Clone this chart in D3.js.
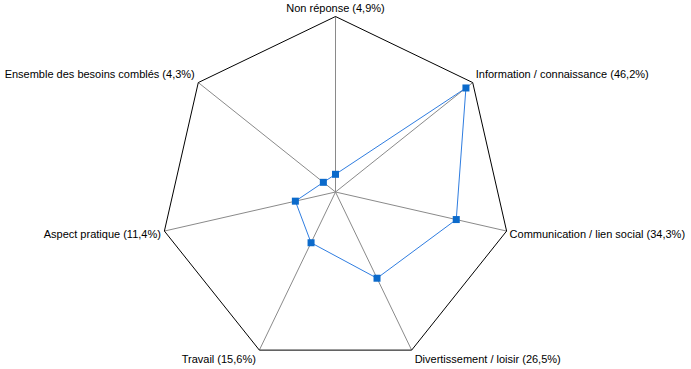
<!DOCTYPE html>
<html><head><meta charset="utf-8">
<script src="https://cdn.jsdelivr.net/npm/d3@7"></script>
<style>body{margin:0;background:#fff}svg{display:block}text{font-family:"Liberation Sans",Arial,sans-serif;font-size:11px;fill:#000}</style>
</head><body>
<svg id="c" width="691" height="369"></svg>
<script>
const categories = ["Non réponse","Information / connaissance","Communication / lien social","Divertissement / loisir","Travail","Aspect pratique","Ensemble des besoins comblés"];
const values = [4.9, 46.2, 34.3, 26.5, 15.6, 11.4, 4.3];
const labels = ["Non réponse (4,9%)","Information / connaissance (46,2%)","Communication / lien social (34,3%)","Divertissement / loisir (26,5%)","Travail (15,6%)","Aspect pratique (11,4%)","Ensemble des besoins comblés (4,3%)"];
const scaleMax = 48.6;

const svg = d3.select("#c");
const cx = 335.5, cy = 192, R = 175.5;
const r = d3.scaleLinear().domain([0, scaleMax]).range([0, R]);
const n = categories.length;
const ang = d3.scaleLinear().domain([0, n]).range([0, 2*Math.PI]);
const pt = (i, v) => [cx + r(v)*Math.sin(ang(i)), cy - r(v)*Math.cos(ang(i))];

const g = svg.append("g");
// spokes
categories.forEach((c,i)=>{
  const p = pt(i, scaleMax);
  g.append("line").attr("x1",cx).attr("y1",cy).attr("x2",p[0]).attr("y2",p[1])
   .attr("stroke","#8a8a8a").attr("stroke-width",1);
});
// outer polygon
const line = d3.line().curve(d3.curveLinearClosed);
g.append("path").attr("d", line(categories.map((c,i)=>pt(i,scaleMax))))
 .attr("fill","none").attr("stroke","#000").attr("stroke-width",1);
// data
g.append("path").attr("d", line(values.map((v,i)=>pt(i,v))))
 .attr("fill","none").attr("stroke","#2f7de0").attr("stroke-width",1);
g.selectAll("rect.m").data(values).enter().append("rect")
 .attr("x",(v,i)=>pt(i,v)[0]-3.5).attr("y",(v,i)=>pt(i,v)[1]-3.5)
 .attr("width",7).attr("height",7).attr("fill","#0b6acb");
// labels
labels.forEach((t,i)=>{
  const p = pt(i, scaleMax);
  const s = Math.sin(ang(i)), c = Math.cos(ang(i));
  const anchor = Math.abs(s)<0.1 ? "middle" : (s>0 ? "start" : "end");
  const dx = Math.abs(s)<0.1 ? 0 : (s>0 ? 3 : -3.5);
  let dy;
  if (c > 0.9) dy = -9; else if (c > 0.3) dy = -8.5; else if (c > -0.5) dy = 2.5; else dy = 8.5;
  g.append("text").attr("x",p[0]+dx).attr("y",p[1]+dy).attr("text-anchor",anchor)
   .attr("dominant-baseline","central").text(t);
});
</script>
</body></html>
